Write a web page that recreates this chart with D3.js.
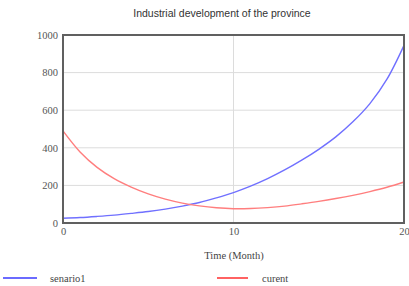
<!DOCTYPE html>
<html><head><meta charset="utf-8">
<script src="https://cdn.jsdelivr.net/npm/d3@7"></script>
<style>body{margin:0;background:#fff;overflow:hidden}</style>
</head><body>
<svg id="c" width="409" height="286"></svg>
<script>
const time = [0,1,2,3,4,5,6,7,8,9,10,11,12,13,14,15,16,17,18,19,20];
const senario1 = [25,29,35,42,51,61,74,90,109,134,162,196,236,282,334,392,458,538,635,765,945];
const curent = [490,378,296,236,191,155,127,106,91,81,76,77,82,90,102,115,130,147,167,190,218];
const xTicks = [0,10,20];
const yTicks = [0,200,400,600,800,1000];
const title = "Industrial development of the province";
const xTitle = "Time (Month)";
const seriesNames = ["senario1","curent"];

const svg = d3.select("#c");
const m = {l:63, r:404, t:35, b:223};
const x = d3.scaleLinear().domain([0,20]).range([m.l, m.r]);
const y = d3.scaleLinear().domain([0,1000]).range([m.b, m.t]);

// grid
svg.append("g").selectAll("line").data([200,400,600,800]).join("line")
  .attr("x1",m.l).attr("x2",m.r).attr("y1",d=>y(d)).attr("y2",d=>y(d))
  .attr("stroke","#dcdcdc").attr("stroke-width",1);
svg.append("line").attr("x1",x(10)).attr("x2",x(10)).attr("y1",m.t).attr("y2",m.b)
  .attr("stroke","#dcdcdc").attr("stroke-width",1);

const line = d3.line().curve(d3.curveCatmullRom.alpha(0.5));
svg.append("path").attr("d", line(time.map((t,i)=>[x(t), y(senario1[i])])))
  .attr("fill","none").attr("stroke","#7070ff").attr("stroke-width",1.4);
svg.append("path").attr("d", line(time.map((t,i)=>[x(t), y(curent[i])])))
  .attr("fill","none").attr("stroke","#ff7e7e").attr("stroke-width",1.4);

// frame
svg.append("rect").attr("x",m.l).attr("y",m.t).attr("width",m.r-m.l).attr("height",m.b-m.t)
  .attr("fill","none").attr("stroke","#606060").attr("stroke-width",2);

const serif = "'Liberation Serif', 'Times New Roman', serif";
// axes
const yAxis = d3.axisLeft(y).tickValues(yTicks).tickFormat(d3.format("d")).tickSize(0).tickPadding(5);
const gy = svg.append("g").attr("transform",`translate(${m.l},0)`).call(yAxis);
gy.select(".domain").remove();
gy.attr("font-family", null).attr("font-size", null);
gy.selectAll("text").style("font-family",serif).style("font-size","10.5px").attr("fill","#555");

const xAxis = d3.axisBottom(x).tickValues(xTicks).tickFormat(d3.format("d")).tickSize(0).tickPadding(5);
const gx = svg.append("g").attr("transform",`translate(0,${m.b})`).call(xAxis);
gx.select(".domain").remove();
gx.attr("font-family", null).attr("font-size", null);
gx.selectAll("text").style("font-family",serif).style("font-size","10.5px").attr("fill","#555");

svg.append("text").attr("x",222).attr("y",17).attr("text-anchor","middle")
  .style("font-family","'Liberation Sans', Arial, sans-serif").style("font-size","10.5px")
  .attr("fill","#333").text(title);
svg.append("text").attr("x",234).attr("y",259).attr("text-anchor","middle")
  .style("font-family",serif).style("font-size","10.5px")
  .attr("fill","#444").text(xTitle);

// legend
const leg = [{x1:3,x2:37,tx:50,c:"#3a3aff"},{x1:217,x2:248,tx:262,c:"#ff3a3a"}];
leg.forEach((l,i)=>{
  svg.append("line").attr("x1",l.x1).attr("x2",l.x2).attr("y1",278).attr("y2",278)
    .attr("stroke",l.c).attr("stroke-width",1.6);
  svg.append("text").attr("x",l.tx).attr("y",281.5)
    .style("font-family",serif).style("font-size","10.5px")
    .attr("fill","#444").text(seriesNames[i]);
});
</script>
</body></html>
